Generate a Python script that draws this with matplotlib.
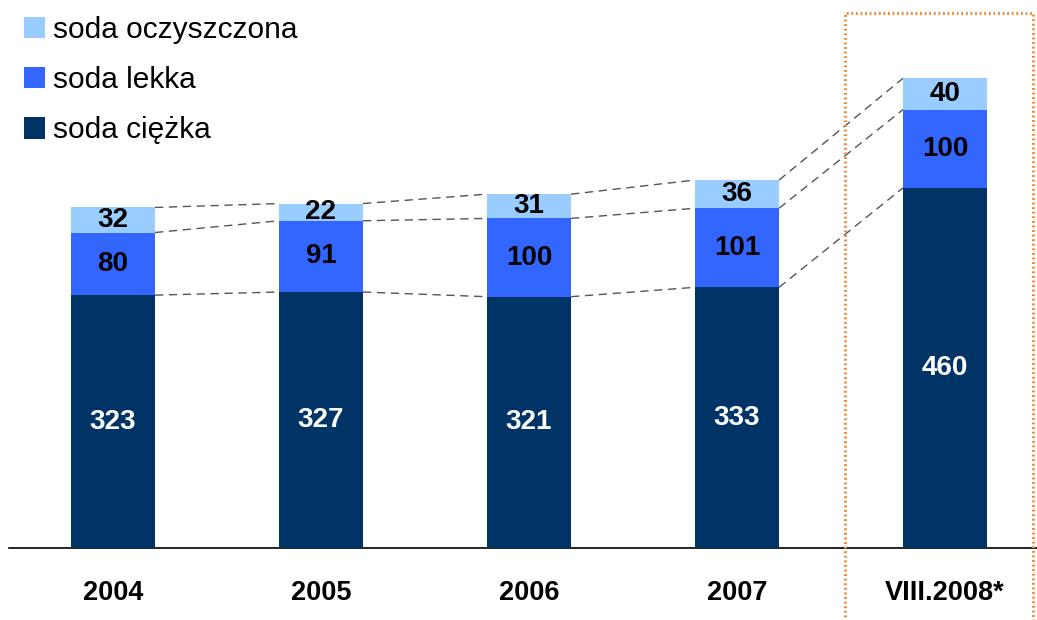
import matplotlib.pyplot as plt
from matplotlib.patches import Rectangle
import numpy as np

# --- DATA ---
years = ["2004", "2005", "2006", "2007", "VIII.2008*"]
ciezka = [323, 327, 321, 333, 460]
lekka = [80, 91, 100, 101, 100]
oczyszczona = [32, 22, 31, 36, 40]

names = ["soda ciężka", "soda lekka", "soda oczyszczona"]
colors = ["#003366", "#3366FF", "#99CCFF"]
text_colors = ["white", "black", "black"]

plt.rcParams['font.family'] = ['Liberation Sans', 'DejaVu Sans']

# --- PLOT ---
fig = plt.figure(figsize=(10.37, 6.2), dpi=100)
ax = fig.add_axes([0, 72 / 620, 1, 548 / 620])

x = np.arange(len(years))
width = 0.404
series = [ciezka, lekka, oczyszczona]

bottom = np.zeros(len(years))
tops = []
bars = []
for vals, col, tcol, name in zip(series, colors, text_colors, names):
    vals = np.array(vals)
    b = ax.bar(x, vals, width, bottom=bottom, color=col, label=name, zorder=3)
    bars.append(b)
    for xi, v, bt in zip(x, vals, bottom):
        ax.text(xi, bt + v / 2, str(v), ha="center", va="center",
                color=tcol, fontsize=20, fontweight="bold", zorder=4)
    bottom = bottom + vals
    tops.append(bottom.copy())

# dashed connectors between neighbouring bars
for level in tops:
    for i in range(len(years) - 1):
        ax.plot([x[i] + width / 2, x[i + 1] - width / 2], [level[i], level[i + 1]],
                color="#555555", lw=1, ls=(0, (6, 4)), zorder=2)

# dotted orange frame round the last bar
ax.add_patch(Rectangle((3.519, -140), 4.423 - 3.519, 683 + 140, fill=False,
                       edgecolor="#F28A3C", lw=2.2, ls=(0, (0.6, 0.9)),
                       clip_on=False, zorder=5))

ax.set_xlim(-0.543, 4.442)
ax.set_ylim(0, 700)
for s in ["top", "left", "right"]:
    ax.spines[s].set_visible(False)
ax.spines["bottom"].set_bounds(-0.5, 4.45)
ax.spines["bottom"].set_linewidth(1.2)
ax.set_yticks([])
ax.set_xticks(x, years, fontsize=19.5, fontweight="bold")
ax.tick_params(axis="x", length=0, pad=23)

handles = [bars[2], bars[1], bars[0]]
ax.legend(handles, [names[2], names[1], names[0]], loc="upper left",
          bbox_to_anchor=(0.004, 1.006), frameon=False, fontsize=21.5,
          handlelength=0.72, handleheight=0.72, handletextpad=0.25,
          labelspacing=0.74, borderaxespad=0.25)

plt.savefig("out.png", dpi=100)
